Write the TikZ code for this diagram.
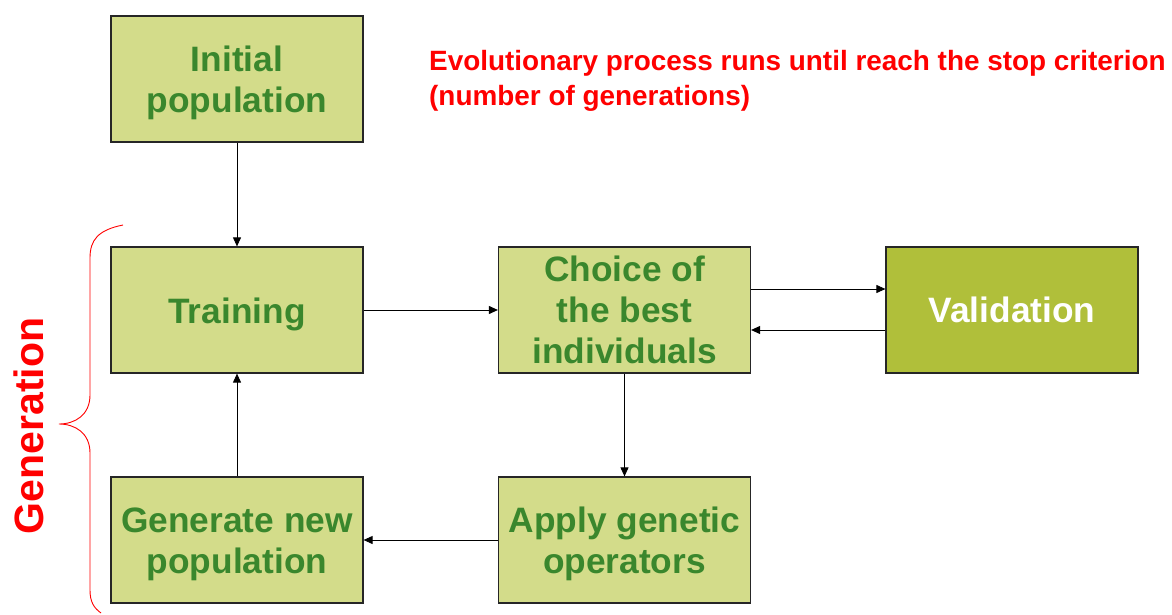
\documentclass[tikz,border=0pt]{standalone}
\usepackage{fontspec}
\setmainfont{Liberation Sans}
\usetikzlibrary{arrows.meta}
\definecolor{boxfill}{RGB}{211,220,138}
\definecolor{valfill}{RGB}{176,191,58}
\definecolor{boxtext}{RGB}{58,135,45}
\definecolor{redtext}{RGB}{255,0,0}
\begin{document}
\begin{tikzpicture}[x=1pt,y=-1pt,
  stepbox/.style={draw=black!85,line width=1.2pt,fill=boxfill,minimum width=252pt,minimum height=126pt,
    inner sep=0pt},
  valbox/.style={stepbox,fill=valfill},
  steptext/.style={inner sep=0pt,align=center,font=\fontsize{35.3}{41}\selectfont\bfseries,text=boxtext},
  valtext/.style={steptext,text=white},
  link/.style={draw=black,line width=0.9pt,-{Triangle[length=9pt,width=8pt]}}]
\useasboundingbox (0,0) rectangle (1172,615);
% process steps
\node[stepbox,label={[steptext,yshift=-4pt]center:Initial\\population}] (init) at (237,79) {};
\node[stepbox,label={[steptext,yshift=-4pt]center:Training}] (train) at (237,310) {};
\node[stepbox,label={[steptext]center:Choice of\\the best\\individuals}] (choice) at (624.5,310) {};
\node[valbox,label={[valtext]center:Validation}] (valid) at (1012,310) {};
\node[stepbox,label={[steptext,yshift=-4pt]center:Generate new\\population}] (gen) at (237,540) {};
\node[stepbox,label={[steptext,yshift=-4pt]center:Apply genetic\\operators}] (apply) at (624.5,540) {};
% connectors
\draw[link] (init) -- (train);
\draw[link] (train) -- (choice);
\draw[link] ([yshift=21pt]choice.east) -- ([yshift=21pt]valid.west);
\draw[link] ([yshift=-20pt]valid.west) -- ([yshift=-20pt]choice.east);
\draw[link] (choice) -- (apply);
\draw[link] (apply) -- (gen);
\draw[link] (gen) -- (train);
% stop criterion note
\node[anchor=base west,text=redtext,font=\fontsize{27.9}{35}\selectfont\bfseries,align=left,inner sep=0pt]
  (note) at (429,106) {Evolutionary process runs until reach the stop criterion\\(number of generations)};
% brace spanning one generation
\coordinate (btop) at (123,225);
\coordinate (btip) at (59,424);
\coordinate (bbot) at (101,613);
\draw[red,line width=0.9pt] (btop) .. controls (98,230) and (90,240) .. (90,258)
  -- (90,395) .. controls (90,415) and (75,424) .. (btip)
  .. controls (75,424) and (90,433) .. (90,453)
  -- (90,590) .. controls (90,602) and (94,608) .. (bbot);
\node[rotate=90,anchor=base,text=redtext,font=\fontsize{41}{48}\selectfont\bfseries,inner sep=0pt]
  (genlabel) at (43,426) {Generation};
\end{tikzpicture}
\end{document}
